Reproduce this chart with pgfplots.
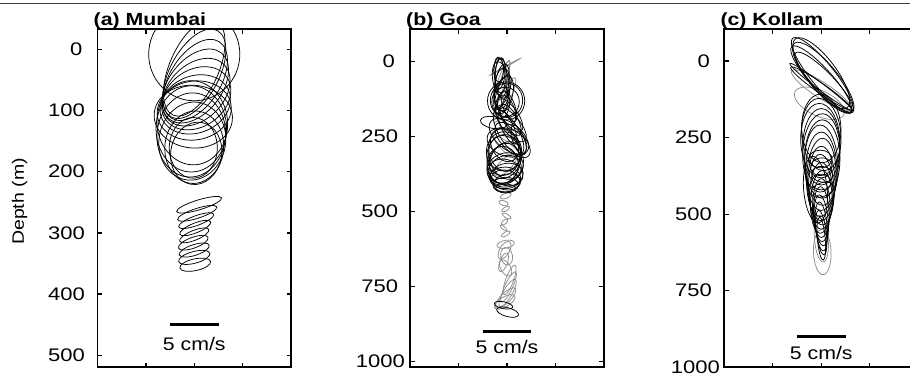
\documentclass[border=0pt]{standalone}
\usepackage{fontspec}
\setmainfont{Liberation Sans}
\usepackage{graphicx}
\usepackage{pgfplots}
\usepackage{pgfplotstable}
\pgfplotsset{compat=1.18}
\definecolor{ellgray}{gray}{0.55}
\newdimen\cmu \cmu=9.8bp
\pgfdeclareplotmark{tidel}{%
  \pgfscope
  \pgftransformrotate{\elang}%
  \pgfpathellipse{\pgfpointorigin}{\pgfqpoint{\ela\cmu}{0pt}}{\pgfqpoint{0pt}{\elb\cmu}}%
  \pgfusepathqstroke
  \endpgfscope}
\newcommand\fs{\fontsize{18.2bp}{21bp}\selectfont}
\newcommand\ft{\fontsize{17.6bp}{21bp}\selectfont}
\newcommand\sx[1]{\scalebox{1.21}[1]{#1}}
\newcommand\sy[1]{\scalebox{1.17}[1]{#1}}
\pgfplotsset{
  ell/.style={scatter, only marks, mark=tidel, color=#1,
    visualization depends on={\thisrow{a}\as\ela},
    visualization depends on={\thisrow{b}\as\elb},
    visualization depends on={\thisrow{ang}\as\elang},
    scatter/@pre marker code/.code={\pgfscope\pgfsetstrokecolor{#1}\pgfsetlinewidth{0.75bp}},
    scatter/@post marker code/.code={\endpgfscope}},
  panel/.style={scale only axis, width=194bp, height=338bp, y dir=reverse,
    xmin=-9.9, xmax=9.9, xtick={-4.95,0,4.95}, xticklabels={},
    clip marker paths=true, axis line style={line width=1.8bp},
    every tick/.style={black, line width=1.3bp}, major tick length=4.5bp,
    tick align=inside, yticklabel style={anchor=east, inner sep=0pt},
    tick label style={font=\fs},
    every axis title/.style={at={(0,1)}, anchor=base west, yshift=3.6bp, xshift=-4bp, inner sep=0pt, font=\bfseries\ft},
    anchor=south west},
}
\begin{document}
\pgfplotstableread{
x y a b ang
0.0 8 4.75 4.65 90
0.0 30 5.3 2.5 66
0.0 40 5.0 2.5 62
0.1 50 4.6 2.6 58
0.1 60 4.3 2.7 52
0.2 70 4.0 2.8 45
0.2 80 3.8 2.9 35
0.1 90 3.7 2.9 22
0.0 100 3.8 3.0 10
-0.1 110 4.0 3.2 -5
-0.2 120 4.3 3.6 95
-0.3 130 4.4 3.6 90
-0.3 140 4.3 3.5 85
-0.2 150 4.0 3.4 80
0.0 160 3.7 3.0 85
-0.1 161 3.1 2.45 90
0.2 170 3.2 2.6 80
0.5 254 2.4 0.5 17
0.3 268 2.1 0.5 18
0.2 280 1.9 0.5 20
0.1 292 1.7 0.5 22
0.0 304 1.6 0.5 22
-0.1 316 1.6 0.55 20
0.0 328 1.6 0.55 18
0.0 340 1.65 0.6 15
0.1 352 1.6 0.6 12
}\tabA
\pgfplotstableread{
x y a b ang
-0.17 18 1.75 0.05 29
-0.55 69 2.3 0.4 70
-0.3 60 2.0 0.3 75
-0.25 129 2.5 0.5 65
0.27 245 2.0 0.4 -55
0.1 290 1.8 0.5 -40
-0.14 345 1.5 0.6 45
-0.14 448 0.6 0.25 20
-0.35 472 0.5 0.25 -20
-0.14 492 0.45 0.2 30
-0.04 515 0.5 0.2 -30
-0.25 535 0.4 0.2 40
-0.35 555 0.45 0.15 -40
-0.14 575 0.5 0.2 30
-0.14 609 0.9 0.4 10
-0.25 629 1.0 0.5 60
-0.04 649 0.9 0.6 100
-0.35 669 1.0 0.4 70
-0.14 688 0.9 0.5 120
0.27 728 1.6 0.4 70
0.16 751 1.7 0.4 65
0.06 771 1.6 0.45 60
-0.14 788 1.4 0.5 45
-0.25 801 1.2 0.5 30
}\tabBg
\pgfplotstableread{
x y a b ang
-0.85 29 1.2 0.5 90
-0.7 40 1.6 0.5 85
-0.75 46 1.85 0.55 95
-0.6 55 2.0 0.6 92
-0.65 62 1.9 0.8 100
-0.55 79 2.2 0.7 80
-0.5 90 2.1 0.8 85
-0.4 100 1.8 0.6 70
-0.35 112 2.0 0.9 75
-0.6 118 1.5 0.7 95
-0.09 132 1.95 1.9 90
-0.05 130 1.75 1.65 90
-0.15 135 1.5 1.4 90
-1.37 204 1.36 0.6 -10
-0.45 146 1.4 0.7 80
0.2 150 1.7 0.6 -70
-0.04 162 1.6 0.8 110
0.3 180 2.0 0.8 -55
0.37 195 1.8 0.7 -60
0.4 210 2.2 0.9 -50
0.06 219 1.9 0.6 -65
0.16 235 2.6 1.0 -60
0.2 250 2.4 1.3 -40
0.57 262 2.3 1.1 -45
1.18 262 1.6 0.6 -70
0.0 270 2.1 1.4 -20
-0.25 279 1.8 1.3 120
-0.25 295 2.2 1.6 100
-0.3 300 2.0 1.8 90
-0.35 312 2.1 1.7 80
-0.1 320 2.3 1.7 110
-0.14 329 2.0 1.5 60
-0.3 340 2.1 1.6 70
-0.45 345 1.9 1.6 90
-0.2 355 1.9 1.5 20
-0.25 362 1.8 1.4 30
-0.1 370 1.8 1.3 160
-0.04 379 1.7 1.2 10
-0.2 388 1.6 1.1 0
-0.14 395 1.5 1.0 -10
0.0 405 1.4 0.9 10
-0.14 412 1.3 0.8 0
-0.14 422 1.0 0.4 0
0.06 835 1.15 0.45 -15
-0.35 812 0.95 0.35 -12
}\tabBk
\pgfplotstableread{
x y a b ang
-0.2 138 2.75 1.3 -25
0.0 95 3.6 0.8 -33
0.1 624 2.3 0.9 92
0.0 580 2.4 0.7 95
}\tabCg
\pgfplotstableread{
x y a b ang
0.1 45 4.8 1.2 -51
0.2 55 4.6 1.4 -50
0.0 60 4.5 1.1 -48
0.0 40 4.4 1.5 -53
0.3 70 4.2 1.0 -46
-0.05 84 3.95 0.35 -37
0.0 90 3.8 0.5 -35
0.0 220 3.5 2.0 92
0.0 240 3.7 2.0 95
-0.1 260 3.8 2.0 92
0.0 280 3.9 1.9 90
0.0 300 4.0 1.9 88
0.1 320 4.0 1.8 90
0.0 340 4.1 1.7 92
0.0 360 4.0 1.6 90
0.0 380 4.0 1.5 88
0.0 400 3.8 1.4 90
0.0 420 3.6 1.3 92
0.0 440 3.4 1.2 90
0.0 460 3.2 1.1 88
0.0 480 3.0 0.9 90
0.0 500 2.8 0.8 92
0.0 520 2.6 0.7 95
0.0 540 2.5 0.6 95
0.0 560 2.3 0.5 97
0.0 580 2.2 0.4 95
-0.1 320 1.2 0.9 0
0.0 345 1.1 0.9 10
0.1 370 1.1 0.8 -10
0.0 395 1.0 0.8 0
0.1 420 1.2 0.7 20
-0.6 420 3.4 1.2 95
}\tabCk
\begin{tikzpicture}
\draw[black!75, line width=1.2bp] (0,374.7bp) -- (910bp,374.7bp);
\node[rotate=90, font=\fontsize{16.5bp}{19bp}\selectfont, inner sep=0pt] at (19.7bp,176.5bp) {\scalebox{1.18}[1]{Depth (m)}};
% (a) Mumbai
\begin{axis}[panel, at={(97.5bp,10.7bp)}, width=193.5bp,
  ymin=-32.7, ymax=519.6, ytick={0,100,200,300,400,500},
  yticklabels={\sx{0}\hspace*{2.5bp},\sx{100},\sx{200},\sx{300},\sx{400},\sx{500}},
  yticklabel style={xshift=-12.5bp},
  title={\sx{(a) Mumbai}}]
\addplot[ell=black] table {\tabA};
\addplot[black, line width=2.6bp, no marks] coordinates {(-2.5,450) (2.5,450)};
\node[anchor=base, font=\fs, inner sep=0pt, yshift=-26bp] at (axis cs:0,450) {\sy{5 cm/s}};
\end{axis}
% (b) Goa
\begin{axis}[panel, at={(410bp,10.7bp)},
  ymin=-106.5, ymax=1018.6, ytick={0,250,500,750,1000},
  yticklabels={\sx{0}\hspace*{3.3bp},\sx{250},\sx{500},\sx{750},\sx{1000}\hspace*{-6.7bp}},
  yticklabel style={xshift=-11.7bp},
  title={\sx{(b) Goa}}]
\addplot[ell=ellgray] table {\tabBg};
\addplot[ell=black] table {\tabBk};
\addplot[black, line width=2.6bp, no marks] coordinates {(-2.5,900) (2.5,900)};
\node[anchor=base, font=\fs, inner sep=0pt, yshift=-21.6bp] at (axis cs:0,900) {\sy{5 cm/s}};
\end{axis}
% (c) Kollam
\begin{axis}[panel, at={(724.3bp,10.7bp)},
  ymin=-103.5, ymax=1000, ytick={0,250,500,750,1000},
  yticklabels={\sx{0}\hspace*{2bp},\sx{250},\sx{500},\sx{750},\sx{1000}\hspace*{-8bp}},
  yticklabel style={xshift=-12.3bp},
  title={\sx{(c) Kollam}}]
\addplot[ell=ellgray] table {\tabCg};
\addplot[ell=black] table {\tabCk};
\addplot[black, line width=2.6bp, no marks] coordinates {(-2.5,900) (2.5,900)};
\node[anchor=base, font=\fs, inner sep=0pt, yshift=-22.7bp] at (axis cs:0,900) {\sy{5 cm/s}};
\end{axis}
\pgfresetboundingbox
\useasboundingbox (0,0) rectangle (910bp,378bp);
\end{tikzpicture}
\end{document}
